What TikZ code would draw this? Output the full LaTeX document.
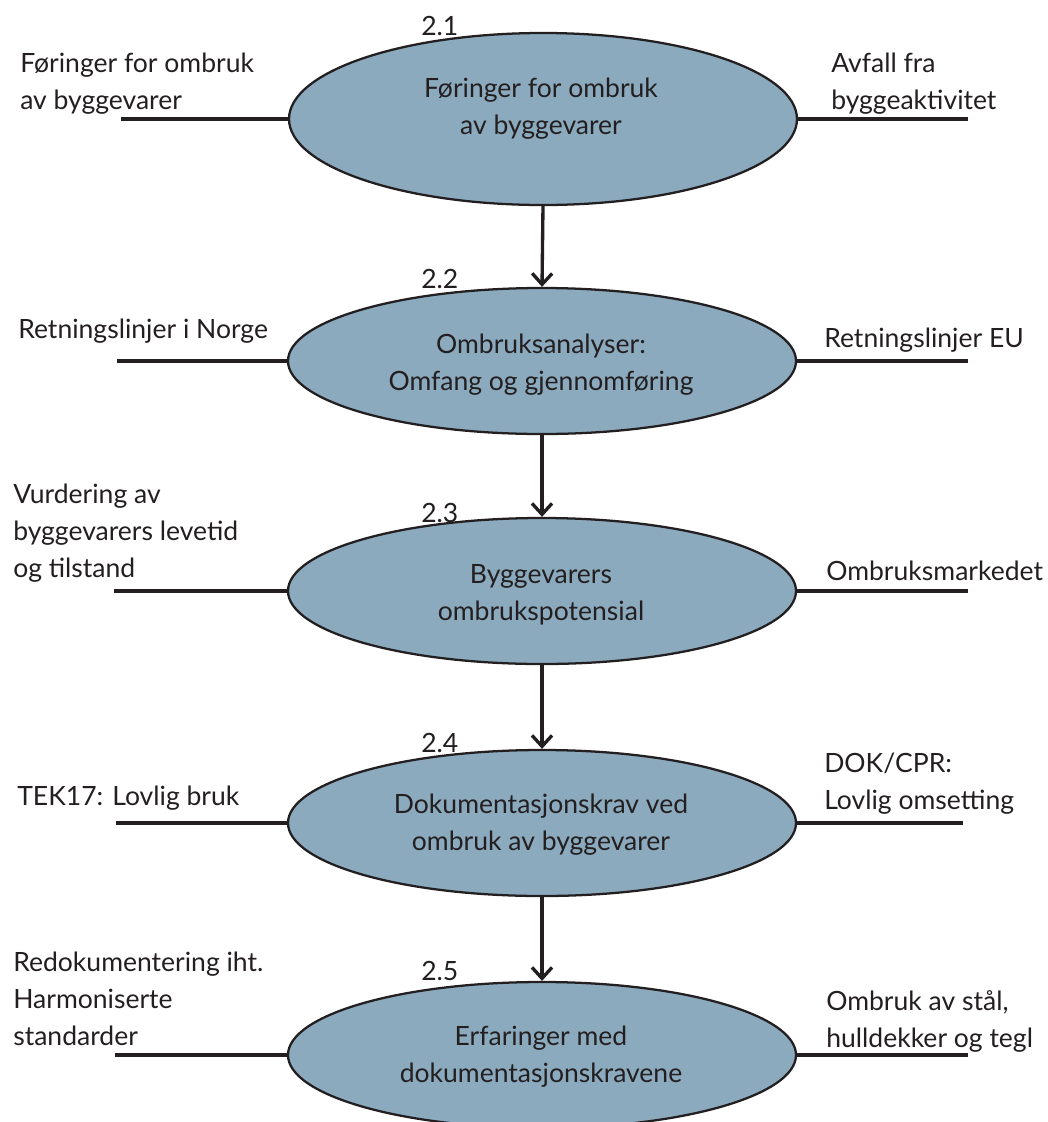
\documentclass[tikz,border=0pt]{standalone}
\usepackage{fontspec}
\setmainfont{Lato}
\usetikzlibrary{shapes.geometric,arrows.meta}
\definecolor{procfill}{RGB}{139,170,190}
\definecolor{ink}{RGB}{35,31,32}
% stacked lines whose baseline is the first line's baseline
\newcommand{\stk}[2][l]{\begin{tabular}[t]{@{}#1@{}}#2\end{tabular}}
\begin{document}
\begin{tikzpicture}[x=0.75pt,y=-0.75pt,
  proc/.style={ellipse, draw=ink, line width=1.7pt, fill=procfill, inner sep=0pt,
    minimum width=381pt, minimum height=109.5pt},
  lbl/.style={inner sep=0pt, text=ink, font=\fontsize{19.9pt}{27.75pt}\selectfont},
  side/.style={lbl, anchor=base west},
  intext/.style={lbl, anchor=base},
  num/.style={lbl, anchor=base west},
  feed/.style={draw=ink, line width=2.5pt},
  flow/.style={draw=ink, line width=2.5pt, -{Straight Barb[length=8.25pt,width=15pt]}}
]
\useasboundingbox (0,0) rectangle (1048,1122);

% process ellipses
\node[proc, minimum height=129pt] (e1) at (543,119) {};
\node[proc] (e2) at (542,361) {};
\node[proc] (e3) at (542,591) {};
\node[proc] (e4) at (542,823) {};
\node[proc] (e5) at (542,1055) {};

% texts inside the ellipses
\node[intext] (t1) at (541,97) {\stk[c]{Føringer for ombruk\\av byggevarer}};
\node[intext] (t2) at (541,353) {\stk[c]{Ombruksanalyser:\\Omfang og gjennomføring}};
\node[intext] (t3) at (541,583) {\stk[c]{Byggevarers\\ombrukspotensial}};
\node[intext] (t4) at (541,813) {\stk[c]{Dokumentasjonskrav ved\\ombruk av byggevarer}};
\node[intext] (t5) at (541,1045) {\stk[c]{Erfaringer med\\dokumentasjonskravene}};

% step numbers
\node[num] (n1) at (421,35) {2.1};
\node[num] (n2) at (421,288) {2.2};
\node[num] (n3) at (421,522) {2.3};
\node[num] (n4) at (421,752) {2.4};
\node[num] (n5) at (421,980) {2.5};

% inputs on the left
\node[side] (a1) at (20,72) {\stk{Føringer for ombruk\\av byggevarer}};
\node[side] (a2) at (18,338) {Retningslinjer i Norge};
\node[side] (a3) at (13,503) {\stk{Vurdering av\\byggevarers levetid\\og tilstand}};
\node[side] (a4) at (17,805) {TEK17: Lovlig bruk};
\node[side] (a5) at (13,971) {\stk{Redokumentering iht.\\Harmoniserte\\standarder}};

% inputs on the right
\node[side] (b1) at (831,72) {\stk{Avfall fra\\byggeaktivitet}};
\node[side] (b2) at (824,347) {Retningslinjer EU};
\node[side] (b3) at (826,580) {Ombruksmarkedet};
\node[side] (b4) at (824,772) {\stk{DOK/CPR:\\Lovlig omsetting}};
\node[side] (b5) at (826,1010) {\stk{Ombruk av stål,\\hulldekker og tegl}};

% free ends of the input lines
\coordinate (la1) at (121,119);
\coordinate (la2) at (117,361);
\coordinate (la3) at (114,591);
\coordinate (la4) at (116,823);
\coordinate (la5) at (115,1055);
\coordinate (lb1) at (968,119);
\coordinate (lb2) at (968,361);
\coordinate (lb3) at (968,591);
\coordinate (lb4) at (963,823);
\coordinate (lb5) at (968,1055);

\foreach \i in {1,...,5}{
  \draw[feed] (la\i) -- (e\i.west);
  \draw[feed] (e\i.east) -- (lb\i);
}

% flow between the steps
\draw[flow] (e1.south) -- (e2.north);
\draw[flow] (e2.south) -- (e3.north);
\draw[flow] (e3.south) -- (e4.north);
\draw[flow] (e4.south) -- (e5.north);
\end{tikzpicture}
\end{document}
